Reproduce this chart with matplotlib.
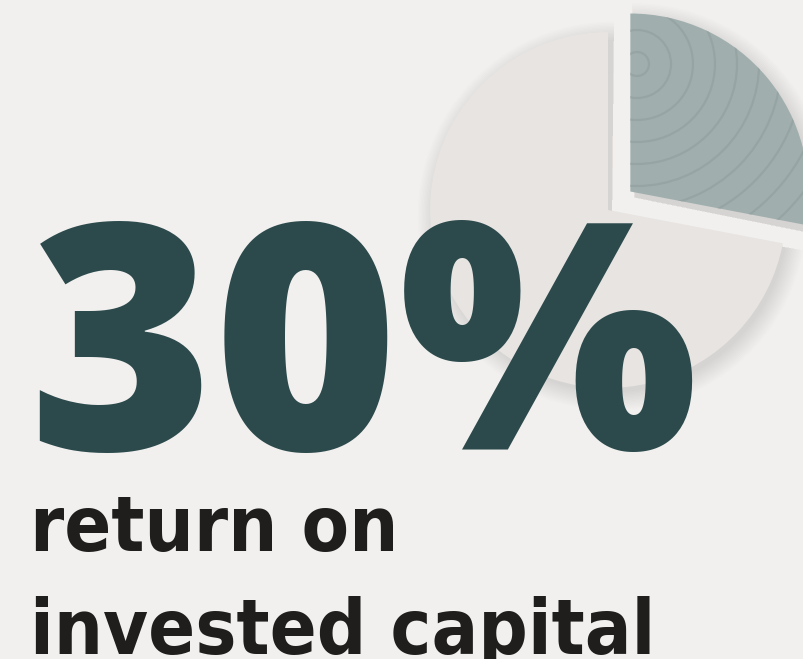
import matplotlib
matplotlib.use("Agg")
import matplotlib.pyplot as plt
from matplotlib.patches import Wedge, Circle
import numpy as np

# ---- data ----
slice_labels = ["Return on invested capital", "Remainder"]
slice_values = [28, 72]
headline = "30%"
caption_lines = ["return on", "invested capital"]

# ---- style ----
BG = "#F1F0EE"
GRAY = "#E7E4E1"
TEAL = "#A0AFAE"
RING = "#94A3A2"
DARK = "#2C4A4C"
BLACK = "#1F1E1C"

W, H = 804, 659
fig = plt.figure(figsize=(W / 100, H / 100), dpi=100, facecolor=BG)
ax = fig.add_axes([0, 0, 1, 1])
ax.set_facecolor(BG)

cx, cy, R = 608, H - 210, 178
explode = [29, 0]

# soft drop shadow (decoration) drawn under the pie
total = sum(slice_values)
theta = 90.0
for v, ex in zip(slice_values, explode):
    t2 = theta - 360.0 * v / total
    tm = np.deg2rad((theta + t2) / 2)
    ox, oy = cx + ex * np.cos(tm), cy + ex * np.sin(tm)
    for k in range(14):
        ax.add_patch(Wedge((ox + 4, oy - 6), R - 2 + k * 1.4, t2 - 0.6, theta + 0.6,
                           facecolor="#6f6a66", edgecolor="none", alpha=0.011, zorder=1))
    theta = t2

wedges, _ = ax.pie(slice_values, startangle=90, counterclock=False,
                   center=(cx, cy), radius=R, explode=explode,
                   colors=[TEAL, GRAY], wedgeprops=dict(linewidth=0))
for w in wedges:
    w.set_zorder(2)

# wood-grain rings on the highlighted slice
rc = (637, H - 64)
for r in np.arange(12, 330, 22):
    c = Circle(rc, r, facecolor="none", edgecolor=RING, linewidth=1.6, alpha=0.8, zorder=3)
    ax.add_patch(c)
    c.set_clip_path(wedges[0])

ax.set_xlim(0, W)
ax.set_ylim(0, H)
ax.set_aspect("auto")
ax.axis("off")

ax.text(28, H - 450, headline, fontsize=316 * 0.72, family="Open Sans", fontweight=800,
        color=DARK, ha="left", va="baseline", zorder=5)

cap_size = 77 * 0.72
ax.text(30, H - 551, caption_lines[0], fontsize=cap_size, family="DejaVu Sans",
        fontstretch="condensed", fontweight="bold", color=BLACK, ha="left", va="baseline", zorder=5)
ax.text(30, H - 654, caption_lines[1], fontsize=cap_size, family="DejaVu Sans",
        fontstretch="condensed", fontweight="bold", color=BLACK, ha="left", va="baseline", zorder=5)

fig.savefig("out.png", dpi=100, facecolor=BG)
